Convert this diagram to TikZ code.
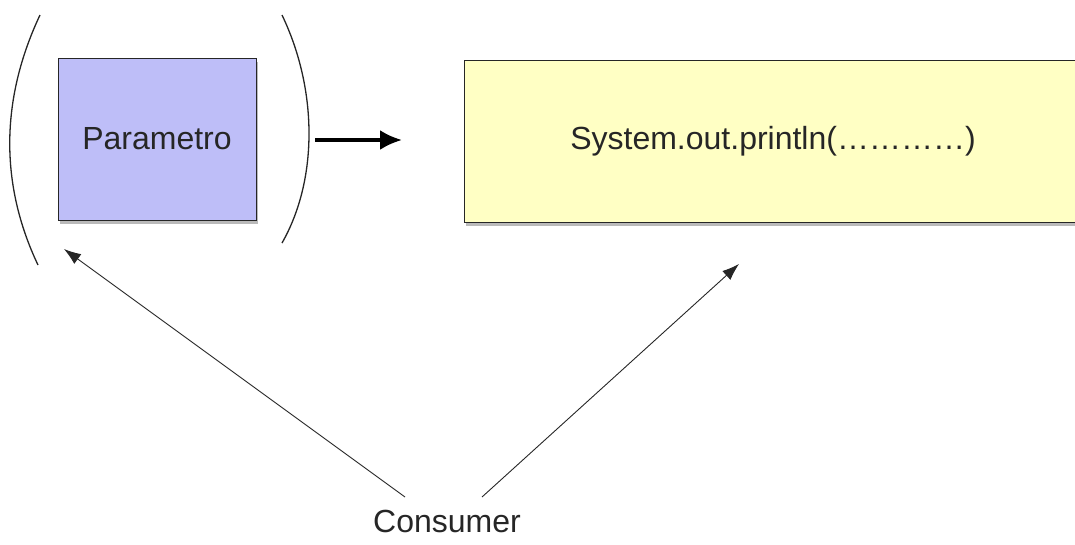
\documentclass[tikz,border=0pt]{standalone}
\usepackage{fontspec}
\setmainfont{Liberation Sans}
\usetikzlibrary{shadows,arrows.meta}
\definecolor{parblue}{HTML}{BEBEF8}
\definecolor{sysyellow}{HTML}{FFFFC4}
\tikzset{
  boxstyle/.style={draw=black!85, line width=1pt, inner sep=0pt,
    drop shadow={shadow xshift=1.5pt, shadow yshift=-3.5pt, opacity=0.45, fill=black!60}},
  thinarrow/.style={line width=0.9pt, draw=black!85, -{Latex[length=17pt,width=12pt]}},
  thickarrow/.style={line width=3.5pt, -{Latex[length=22pt,width=20pt]}},
  paren/.style={line width=1.3pt, draw=black!85},
  lbl/.style={font=\fontsize{32}{36}\selectfont, text=black!85}
}
\begin{document}
\begin{tikzpicture}[x=1pt,y=-1pt]
\useasboundingbox (0,0) rectangle (1075,544);
\clip (0,0) rectangle (1075,544);
\node[boxstyle, fill=parblue, minimum width=198pt, minimum height=162pt, lbl] (param) at (157,139) {Parametro};
\node[boxstyle, fill=sysyellow, minimum width=624pt, minimum height=162pt, lbl] (sys) at (776,141) {};
\node[lbl] (systext) at (773,141) {System.out.println(…………)};
\node[lbl] (cons) at (447,521) {Consumer};
\draw[paren] (40,15) .. controls (0,100) and (0,185) .. (38,265);
\draw[paren] (282,15) .. controls (318,90) and (318,180) .. (282,243);
\coordinate (thkS) at (315,140);
\coordinate (thkE) at (402,140);
\draw[thickarrow] (thkS) -- (thkE);
\coordinate (c1) at (405,497);
\coordinate (c2) at (482,497);
\coordinate (t1) at (64,249);
\coordinate (t2) at (739,264);
\draw[thinarrow] (c1) -- (t1);
\draw[thinarrow] (c2) -- (t2);
\end{tikzpicture}
\end{document}
